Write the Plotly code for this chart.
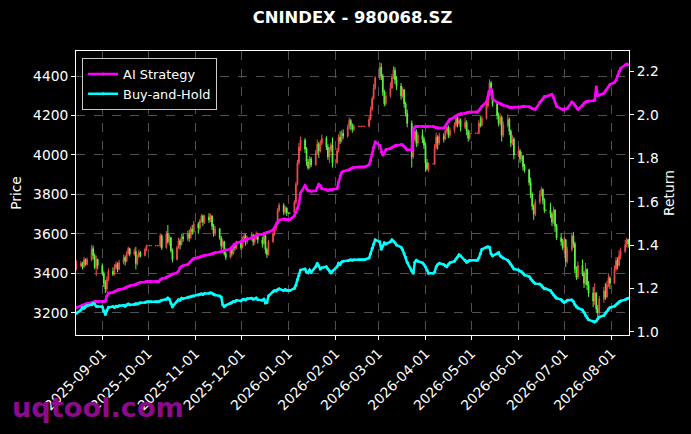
import pandas as pd
import plotly.graph_objects as go

# one row per trading week (first row is the lone Friday 2025-08-15)
opens = [
    3425,
    3440, 3450, 3432, 3468, 3445,
    3470, 3525, 3490, 3430, 3470,
    3440, 3400, 3350, 3320, 3370,
    3410, 3395, 3430, 3445, 3420,
    3455, 3480, 3462, 3500, 3525,
    3498, 3510, 3450, 3485, 3505,
    3490, 3520, 3540, 3540, 3540,
    3540, 3540, 3540, 3540, 3590,
    3530, 3600, 3560, 3580, 3515,
    3470, 3530, 3565, 3545, 3585,
    3575, 3600, 3580, 3625, 3610,
    3650, 3630, 3665, 3690, 3660,
    3685, 3670, 3690, 3640, 3600,
    3625, 3580, 3540, 3560, 3500,
    3480, 3520, 3500, 3540, 3530,
    3555, 3530, 3570, 3590, 3560,
    3575, 3595, 3560, 3580, 3600,
    3570, 3550, 3590, 3520, 3495,
    3560, 3600, 3630, 3650, 3720,
    3745, 3710, 3730, 3705, 3705,
    3705, 3760, 3850, 3960, 4040,
    4075, 4030, 3965, 3935, 3980,
    3950, 4010, 4055, 4020, 4060,
    4085, 4040, 3990, 4025, 4050,
    3960, 4020, 4090, 4070, 4110,
    4095, 4140, 4175, 4150, 4130,
    4145, 4145, 4145, 4145, 4145,
    4145, 4180, 4230, 4285, 4340,
    4390, 4445, 4400, 4320, 4260,
    4300, 4340, 4395, 4430, 4380,
    4350, 4300, 4330, 4260, 4210,
    4160, 3990, 4080, 4120, 4060,
    4100, 4080, 4050, 3960, 3925,
    3955, 3955, 4040, 4090, 4060,
    4095, 4080, 4120, 4140, 4100,
    4125, 4150, 4185, 4160, 4175,
    4140, 4165, 4120, 4085, 4110,
    4110, 4110, 4110, 4160, 4150,
    4185, 4250, 4310, 4365, 4320,
    4260, 4200, 4160, 4190, 4100,
    4150, 4180, 4120, 4060, 4080,
    4000, 4020, 3980, 3995, 3940,
    3925, 3860, 3800, 3740, 3700,
    3760, 3800, 3825, 3770, 3720,
    3720, 3700, 3660, 3720, 3640,
    3580, 3560, 3530, 3570, 3460,
    3520, 3590, 3550, 3420, 3380,
    3440, 3400, 3350, 3420, 3340,
    3300, 3260, 3300, 3220, 3200,
    3270, 3310, 3280, 3340, 3375,
    3350, 3420, 3465, 3440, 3490,
    3510, 3545, 3570,
]
highs = [
    3465,
    3462, 3458, 3483, 3475, 3480,
    3544, 3540, 3500, 3490, 3475,
    3450, 3410, 3365, 3385, 3425,
    3430, 3445, 3460, 3455, 3468,
    3495, 3490, 3512, 3535, 3530,
    3525, 3534, 3495, 3520, 3512,
    3530, 3545, 3540, 3540, 3540,
    3540, 3540, 3540, 3604, 3598,
    3615, 3645, 3595, 3585, 3525,
    3540, 3580, 3575, 3600, 3605,
    3615, 3620, 3635, 3645, 3665,
    3660, 3675, 3700, 3698, 3696,
    3705, 3702, 3695, 3650, 3640,
    3630, 3590, 3575, 3565, 3510,
    3535, 3530, 3553, 3548, 3565,
    3570, 3585, 3605, 3600, 3590,
    3610, 3600, 3595, 3612, 3605,
    3585, 3605, 3595, 3530, 3570,
    3615, 3640, 3662, 3730, 3757,
    3755, 3742, 3735, 3705, 3705,
    3770, 3862, 3975, 4060, 4093,
    4085, 4040, 3980, 3995, 3990,
    4025, 4078, 4065, 4075, 4103,
    4095, 4055, 4040, 4063, 4088,
    4035, 4105, 4120, 4125, 4130,
    4155, 4190, 4182, 4160, 4155,
    4145, 4145, 4145, 4145, 4145,
    4195, 4245, 4297, 4360, 4400,
    4470, 4465, 4410, 4330, 4320,
    4368, 4410, 4450, 4445, 4400,
    4365, 4345, 4335, 4270, 4230,
    4175, 4095, 4147, 4130, 4115,
    4130, 4093, 4060, 3980, 3962,
    3955, 4055, 4113, 4100, 4113,
    4110, 4135, 4155, 4150, 4140,
    4165, 4205, 4195, 4190, 4185,
    4190, 4175, 4130, 4125, 4110,
    4110, 4110, 4175, 4195, 4200,
    4265, 4325, 4383, 4375, 4330,
    4265, 4215, 4210, 4200, 4170,
    4205, 4190, 4130, 4100, 4090,
    4042, 4030, 4015, 4000, 3955,
    3930, 3885, 3810, 3750, 3775,
    3820, 3839, 3830, 3780, 3720,
    3757, 3710, 3737, 3725, 3650,
    3605, 3575, 3584, 3575, 3535,
    3605, 3610, 3560, 3435, 3460,
    3470, 3410, 3452, 3425, 3360,
    3330, 3350, 3305, 3240, 3285,
    3330, 3350, 3360, 3400, 3385,
    3440, 3483, 3480, 3518, 3530,
    3570, 3580, 3575,
]
lows = [
    3415,
    3430, 3420, 3428, 3438, 3440,
    3460, 3470, 3420, 3385, 3420,
    3390, 3330, 3300, 3305, 3360,
    3385, 3390, 3420, 3405, 3415,
    3445, 3440, 3455, 3490, 3485,
    3490, 3420, 3440, 3478, 3480,
    3485, 3512, 3540, 3540, 3540,
    3540, 3540, 3540, 3530, 3518,
    3525, 3550, 3540, 3505, 3455,
    3465, 3525, 3520, 3540, 3560,
    3565, 3560, 3575, 3595, 3600,
    3600, 3620, 3655, 3640, 3650,
    3655, 3660, 3620, 3585, 3590,
    3570, 3520, 3530, 3490, 3468,
    3475, 3485, 3495, 3515, 3522,
    3518, 3525, 3560, 3540, 3548,
    3565, 3540, 3545, 3570, 3550,
    3530, 3545, 3500, 3478, 3490,
    3555, 3590, 3615, 3645, 3710,
    3695, 3700, 3690, 3705, 3705,
    3700, 3750, 3845, 3950, 4020,
    4010, 3945, 3925, 3930, 3938,
    3945, 4000, 3985, 4012, 4050,
    4025, 3975, 3960, 4015, 3936,
    3955, 4012, 4055, 4063, 4080,
    4088, 4130, 4125, 4113, 4120,
    4145, 4145, 4145, 4145, 4145,
    4140, 4175, 4225, 4280, 4330,
    4380, 4380, 4300, 4246, 4250,
    4290, 4335, 4385, 4360, 4330,
    4281, 4290, 4240, 4195, 4140,
    3936, 3980, 4070, 4040, 4045,
    4060, 4030, 3915, 3920, 3915,
    3955, 3950, 4030, 4027, 4050,
    4063, 4075, 4110, 4085, 4088,
    4113, 4140, 4140, 4150, 4120,
    4130, 4100, 4068, 4075, 4110,
    4110, 4110, 4105, 4140, 4145,
    4180, 4240, 4300, 4300, 4245,
    4180, 4145, 4150, 4068, 4090,
    4140, 4100, 4040, 4050, 3977,
    3990, 3960, 3970, 3920, 3910,
    3845, 3780, 3720, 3671, 3690,
    3750, 3790, 3750, 3706, 3720,
    3680, 3640, 3650, 3610, 3569,
    3540, 3518, 3500, 3432, 3450,
    3510, 3530, 3400, 3366, 3370,
    3385, 3325, 3340, 3315, 3280,
    3228, 3240, 3198, 3178, 3190,
    3249, 3265, 3275, 3330, 3320,
    3345, 3410, 3420, 3435, 3470,
    3503, 3530, 3530,
]
closes = [
    3440,
    3450, 3432, 3468, 3445, 3470,
    3525, 3490, 3430, 3470, 3440,
    3400, 3350, 3320, 3370, 3410,
    3395, 3430, 3445, 3420, 3455,
    3480, 3462, 3500, 3525, 3498,
    3510, 3450, 3485, 3505, 3490,
    3520, 3540, 3540, 3540, 3540,
    3540, 3540, 3540, 3590, 3530,
    3600, 3560, 3580, 3515, 3470,
    3530, 3565, 3545, 3585, 3575,
    3600, 3580, 3625, 3610, 3650,
    3630, 3665, 3690, 3660, 3685,
    3670, 3690, 3640, 3600, 3625,
    3580, 3540, 3560, 3500, 3480,
    3520, 3500, 3540, 3530, 3555,
    3530, 3570, 3590, 3560, 3575,
    3595, 3560, 3580, 3600, 3570,
    3550, 3590, 3520, 3495, 3560,
    3600, 3630, 3650, 3720, 3745,
    3710, 3730, 3705, 3705, 3705,
    3760, 3850, 3960, 4040, 4075,
    4030, 3965, 3935, 3980, 3950,
    4010, 4055, 4020, 4060, 4085,
    4040, 3990, 4025, 4050, 3960,
    4020, 4090, 4070, 4110, 4095,
    4140, 4175, 4150, 4130, 4145,
    4145, 4145, 4145, 4145, 4145,
    4180, 4230, 4285, 4340, 4390,
    4445, 4400, 4320, 4260, 4300,
    4340, 4395, 4430, 4380, 4350,
    4300, 4330, 4260, 4210, 4160,
    3990, 4080, 4120, 4060, 4100,
    4080, 4050, 3960, 3930, 3955,
    3955, 4040, 4090, 4060, 4095,
    4080, 4120, 4140, 4100, 4125,
    4150, 4185, 4160, 4175, 4140,
    4165, 4120, 4085, 4110, 4110,
    4110, 4110, 4160, 4150, 4185,
    4250, 4310, 4365, 4320, 4260,
    4200, 4160, 4190, 4100, 4150,
    4180, 4120, 4060, 4080, 4000,
    4020, 3980, 3995, 3940, 3925,
    3860, 3800, 3740, 3700, 3760,
    3800, 3825, 3770, 3720, 3720,
    3700, 3660, 3720, 3640, 3580,
    3560, 3530, 3570, 3460, 3520,
    3590, 3550, 3420, 3380, 3440,
    3400, 3350, 3420, 3340, 3300,
    3260, 3300, 3220, 3200, 3270,
    3310, 3280, 3340, 3375, 3350,
    3420, 3465, 3440, 3490, 3510,
    3545, 3570, 3550,
]
ai_strategy = [
    1.112,
    1.118, 1.122, 1.125, 1.128, 1.130,
    1.133, 1.137, 1.140, 1.140, 1.140,
    1.140, 1.140, 1.142, 1.165, 1.178,
    1.182, 1.186, 1.188, 1.192, 1.195,
    1.198, 1.203, 1.205, 1.209, 1.212,
    1.215, 1.218, 1.222, 1.225, 1.228,
    1.230, 1.232, 1.232, 1.232, 1.232,
    1.232, 1.232, 1.232, 1.240, 1.245,
    1.250, 1.255, 1.258, 1.262, 1.266,
    1.272, 1.280, 1.295, 1.302, 1.305,
    1.310, 1.318, 1.325, 1.332, 1.338,
    1.342, 1.345, 1.347, 1.350, 1.352,
    1.355, 1.358, 1.360, 1.362, 1.365,
    1.368, 1.370, 1.372, 1.375, 1.378,
    1.382, 1.390, 1.398, 1.405, 1.410,
    1.415, 1.418, 1.422, 1.425, 1.428,
    1.432, 1.436, 1.440, 1.444, 1.447,
    1.450, 1.452, 1.455, 1.458, 1.460,
    1.470, 1.482, 1.495, 1.505, 1.515,
    1.520, 1.520, 1.518, 1.518, 1.518,
    1.535, 1.550, 1.570, 1.590, 1.640,
    1.675, 1.660, 1.650, 1.650, 1.648,
    1.650, 1.665, 1.680, 1.675, 1.660,
    1.655, 1.652, 1.655, 1.656, 1.655,
    1.660, 1.690, 1.720, 1.735, 1.740,
    1.745, 1.748, 1.752, 1.755, 1.758,
    1.760, 1.760, 1.760, 1.760, 1.760,
    1.770, 1.790, 1.820, 1.850, 1.875,
    1.860, 1.830, 1.815, 1.825, 1.840,
    1.845, 1.850, 1.855, 1.858, 1.860,
    1.864, 1.862, 1.855, 1.848, 1.840,
    1.840, 1.930, 1.945, 1.947, 1.947,
    1.948, 1.947, 1.946, 1.947, 1.948,
    1.948, 1.945, 1.942, 1.940, 1.940,
    1.940, 1.948, 1.960, 1.970, 1.980,
    1.990, 1.995, 2.000, 2.003, 2.006,
    2.008, 2.010, 2.012, 2.014, 2.014,
    2.014, 2.014, 2.020, 2.030, 2.040,
    2.060, 2.085, 2.110, 2.120, 2.075,
    2.058, 2.055, 2.052, 2.050, 2.045,
    2.040, 2.035, 2.035, 2.035, 2.036,
    2.036, 2.036, 2.038, 2.040, 2.040,
    2.038, 2.034, 2.030, 2.028, 2.026,
    2.060, 2.065, 2.075, 2.085, 2.085,
    2.092, 2.095, 2.080, 2.060, 2.040,
    2.028, 2.026, 2.026, 2.028, 2.030,
    2.060, 2.055, 2.045, 2.035, 2.026,
    2.045, 2.055, 2.060, 2.062, 2.064,
    2.066, 2.068, 2.130, 2.090, 2.092,
    2.100, 2.110, 2.120, 2.130, 2.140,
    2.150, 2.160, 2.180, 2.200, 2.215,
    2.230, 2.235, 2.232,
]
buy_and_hold = [
    1.085,
    1.100, 1.112, 1.108, 1.116, 1.120,
    1.125, 1.130, 1.128, 1.118, 1.116,
    1.115, 1.095, 1.080, 1.098, 1.112,
    1.116, 1.112, 1.118, 1.115, 1.120,
    1.122, 1.118, 1.125, 1.128, 1.124,
    1.126, 1.130, 1.128, 1.132, 1.134,
    1.135, 1.138, 1.138, 1.138, 1.138,
    1.138, 1.138, 1.138, 1.142, 1.145,
    1.150, 1.156, 1.150, 1.130, 1.116,
    1.140, 1.148, 1.145, 1.155, 1.152,
    1.158, 1.160, 1.162, 1.165, 1.165,
    1.170, 1.172, 1.175, 1.172, 1.176,
    1.178, 1.180, 1.178, 1.172, 1.170,
    1.165, 1.160, 1.125, 1.116, 1.122,
    1.130, 1.135, 1.140, 1.138, 1.145,
    1.142, 1.148, 1.150, 1.147, 1.152,
    1.155, 1.150, 1.152, 1.156, 1.148,
    1.145, 1.150, 1.133, 1.135, 1.165,
    1.185, 1.190, 1.188, 1.195, 1.198,
    1.190, 1.195, 1.190, 1.190, 1.190,
    1.200, 1.215, 1.240, 1.260, 1.285,
    1.290, 1.275, 1.272, 1.285, 1.275,
    1.300, 1.316, 1.305, 1.290, 1.295,
    1.300, 1.290, 1.280, 1.272, 1.280,
    1.300, 1.316, 1.310, 1.322, 1.325,
    1.328, 1.330, 1.332, 1.330, 1.332,
    1.332, 1.332, 1.332, 1.332, 1.332,
    1.340, 1.360, 1.385, 1.405, 1.424,
    1.415, 1.380, 1.395, 1.410, 1.405,
    1.415, 1.424, 1.418, 1.410, 1.400,
    1.390, 1.378, 1.360, 1.345, 1.320,
    1.280, 1.270, 1.320, 1.330, 1.325,
    1.318, 1.310, 1.300, 1.285, 1.270,
    1.270, 1.275, 1.300, 1.310, 1.316,
    1.310, 1.305, 1.300, 1.310, 1.318,
    1.325, 1.335, 1.345, 1.355, 1.350,
    1.330, 1.320, 1.325, 1.330, 1.330,
    1.330, 1.330, 1.340, 1.360, 1.380,
    1.390, 1.392, 1.390, 1.360, 1.350,
    1.360, 1.365, 1.350, 1.345, 1.340,
    1.330, 1.322, 1.310, 1.300, 1.290,
    1.285, 1.280, 1.278, 1.270, 1.262,
    1.255, 1.245, 1.235, 1.228, 1.222,
    1.220, 1.215, 1.205, 1.198, 1.198,
    1.190, 1.180, 1.170, 1.160, 1.155,
    1.148, 1.140, 1.135, 1.140, 1.145,
    1.147, 1.140, 1.125, 1.115, 1.110,
    1.100, 1.090, 1.075, 1.065, 1.055,
    1.048, 1.045, 1.050, 1.060, 1.068,
    1.075, 1.085, 1.095, 1.105, 1.112,
    1.118, 1.125, 1.132, 1.138, 1.142,
    1.148, 1.152, 1.155,
]
month_ticks = ["2025-09-01", "2025-10-01", "2025-11-01", "2025-12-01",
               "2026-01-01", "2026-02-01", "2026-03-01", "2026-04-01",
               "2026-05-01", "2026-06-01", "2026-07-01", "2026-08-01"]

dates = pd.bdate_range("2025-08-15", "2026-08-12")
for s in (opens, highs, lows, closes, ai_strategy, buy_and_hold):
    assert len(s) == len(dates), (len(s), len(dates))

RED = "#f24a4a"
GREEN = "#5cf542"
GRID = "#505050"

fig = go.Figure()
fig.add_trace(go.Candlestick(
    x=dates, open=opens, high=highs, low=lows, close=closes,
    increasing=dict(line=dict(color=RED, width=1), fillcolor=RED),
    decreasing=dict(line=dict(color=GREEN, width=1), fillcolor=GREEN),
    showlegend=False, hoverinfo="skip"))
fig.add_trace(go.Scatter(
    x=dates, y=ai_strategy, name="AI Strategy", mode="lines+markers",
    line=dict(color="#ff00ff", width=2.5), marker=dict(size=3), yaxis="y2"))
fig.add_trace(go.Scatter(
    x=dates, y=buy_and_hold, name="Buy-and-Hold", mode="lines+markers",
    line=dict(color="#00ffff", width=2.5), marker=dict(size=3), yaxis="y2"))

axis_common = dict(showline=True, linecolor="white", linewidth=1,
                   ticks="outside", ticklen=4, tickcolor="white",
                   tickfont=dict(size=13.8, color="white"), zeroline=False,
                   automargin=False)

fig.update_layout(
    width=691, height=434,
    margin=dict(l=76, r=62, t=51, b=99, autoexpand=False),
    paper_bgcolor="black", plot_bgcolor="black",
    font=dict(family="DejaVu Sans", color="white", size=13.8),
    title=dict(text="<b>CNINDEX - 980068.SZ</b>", x=0.5, xref="paper",
               xanchor="center", y=1 - 17.5 / 434, yanchor="middle",
               font=dict(size=16.4, color="white")),
    xaxis=dict(type="date", range=["2025-08-14 18:00", "2026-08-12 12:00"],
               tickvals=month_ticks, tickformat="%Y-%m-%d", tickangle=-45,
               showgrid=True, gridcolor=GRID, griddash="dash", gridwidth=0.8,
               mirror=True, rangeslider=dict(visible=False), **axis_common),
    yaxis=dict(range=[3087, 4527], tick0=3200, dtick=200,
               showgrid=True, gridcolor=GRID, griddash="dash", gridwidth=0.8,
               title=dict(text="Price", font=dict(size=13.8), standoff=8),
               **axis_common),
    yaxis2=dict(overlaying="y", side="right", range=[0.985, 2.295],
                tick0=1.0, dtick=0.2, tickformat=".1f", showgrid=False,
                title=dict(text="Return", font=dict(size=13.8), standoff=6),
                **axis_common),
    legend=dict(x=0.011, y=0.975, xanchor="left", yanchor="top",
                bgcolor="black", bordercolor="#cccccc", borderwidth=1,
                font=dict(size=12.9, color="white")),
    annotations=[dict(text="<b>uqtool.com</b>", xref="paper", yref="paper",
                      x=(10 - 76) / 553, y=(335 - 407) / 284,
                      xanchor="left", yanchor="middle", showarrow=False,
                      font=dict(size=27.2, color="#8c0a8c"))],
)

fig.write_html("out.html", config={"displayModeBar": False},
               post_script="document.body.style.margin='0';")
